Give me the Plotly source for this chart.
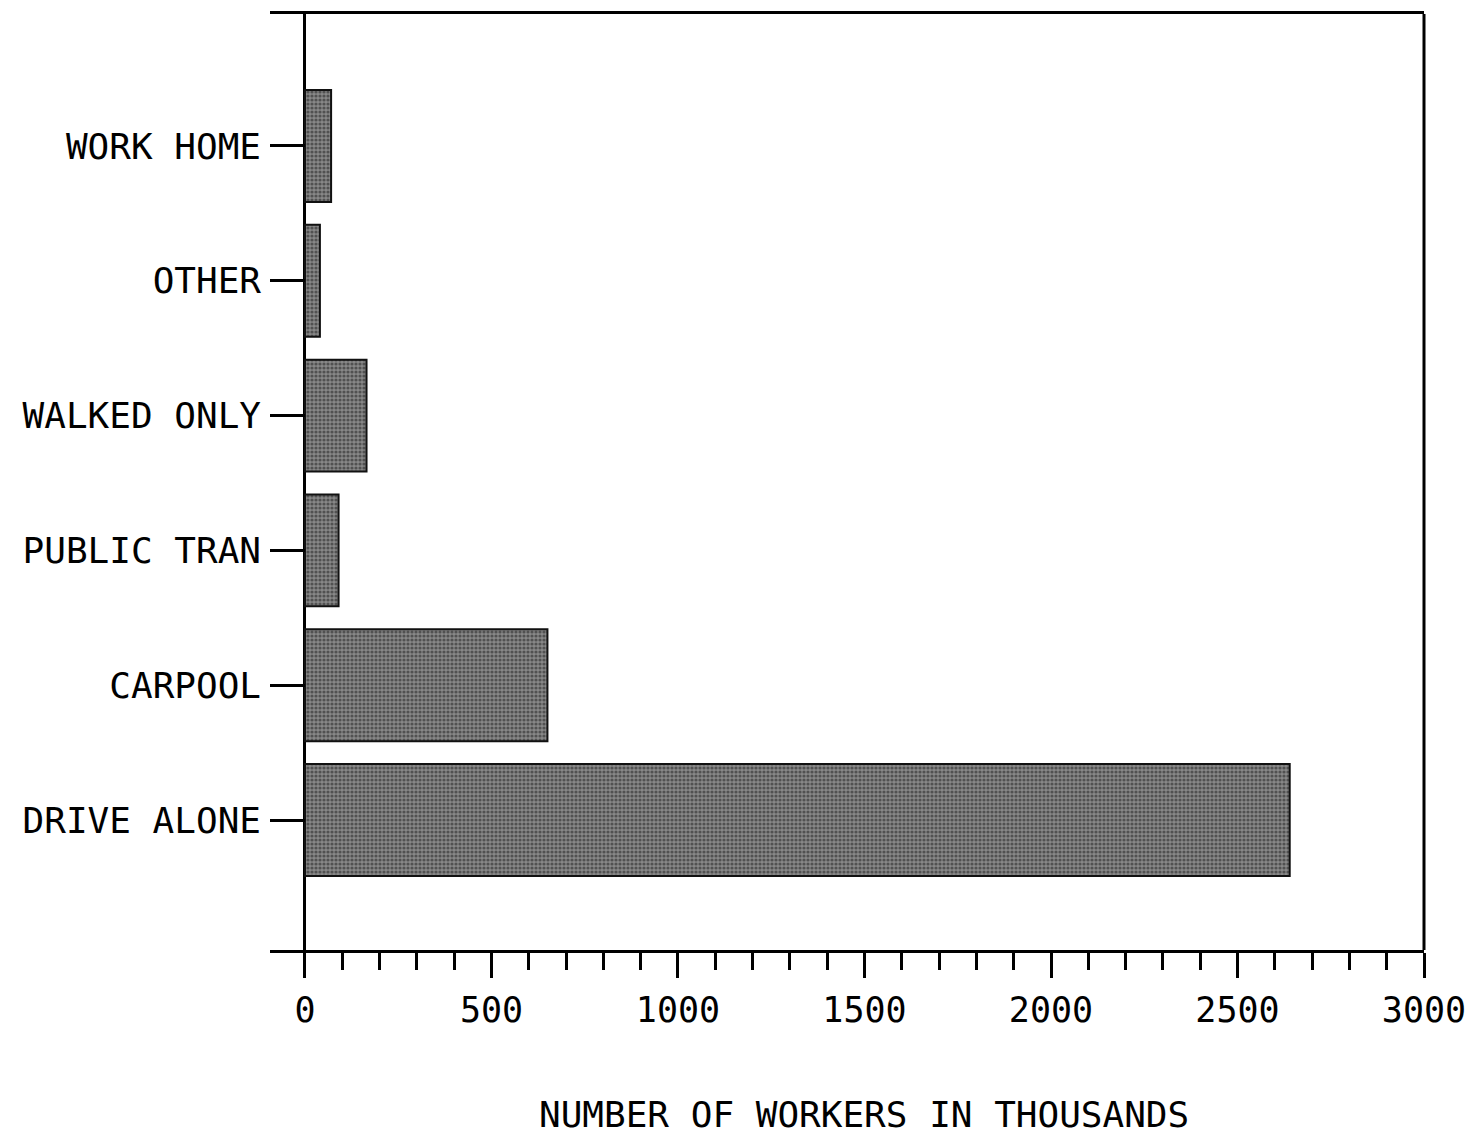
import plotly.graph_objects as go

categories = ["DRIVE ALONE", "CARPOOL", "PUBLIC TRAN", "WALKED ONLY", "OTHER", "WORK HOME"]
workers_thousands = [2640, 650, 90, 165, 40, 70]
x_tick_values = [0, 500, 1000, 1500, 2000, 2500, 3000]
x_tick_labels = ["0", "500", "1000", "1500", "2000", "2500", "3000"]
x_title = "NUMBER OF WORKERS IN THOUSANDS"

FONT = "DejaVu Sans Mono"

fig = go.Figure()
fig.add_trace(go.Bar(
    y=categories,
    x=workers_thousands,
    orientation="h",
    width=0.83,
    marker=dict(
        color="#6a6a6a",
        line=dict(color="#111111", width=2),
        pattern=dict(shape=".", fgcolor="#1a1a1a", bgcolor="#888888", size=4, solidity=0.5),
    ),
    showlegend=False,
))

fig.update_layout(
    width=1471, height=1136,
    margin=dict(l=270, r=47, t=14, b=186, autoexpand=False),
    paper_bgcolor="white", plot_bgcolor="white",
    font=dict(family=FONT, size=36, color="black"),
    xaxis=dict(
        automargin=False,
        range=[-93.8, 3000],
        tickvals=x_tick_values, ticktext=x_tick_labels,
        ticks="outside", ticklen=25, tickwidth=3, tickcolor="black",
        minor=dict(dtick=100, tick0=0, ticks="outside", ticklen=17, tickwidth=3, tickcolor="black", showgrid=False),
        showline=True, linecolor="black", linewidth=3, mirror=True,
        showgrid=False,
        zeroline=True, zerolinecolor="black", zerolinewidth=3,
        ticklabelstandoff=2,
        ticklabeloverflow="allow",
        tickfont=dict(family=FONT, size=35),
    ),
    yaxis=dict(
        automargin=False,
        type="category",
        categoryorder="array", categoryarray=categories,
        range=[-0.964, 5.979],
        ticks="inside", ticklen=35, tickwidth=3, tickcolor="black",
        showline=False, showgrid=False, zeroline=False,
        ticklabelstandoff=8,
        tickfont=dict(family=FONT, size=36),
    ),
    shapes=[dict(type="line", xref="paper", yref="paper", x0=1, x1=1, y0=0, y1=1,
                 line=dict(color="black", width=3))],
    annotations=[dict(text=x_title, xref="x", yref="paper", x=1500, y=0,
                      xanchor="center", yanchor="middle", yshift=-164, showarrow=False,
                      font=dict(family=FONT, size=36, color="black"))],
)

fig.write_html(
    "out.html",
    config={"displayModeBar": False},
    post_script="document.body.style.margin='0';",
)
